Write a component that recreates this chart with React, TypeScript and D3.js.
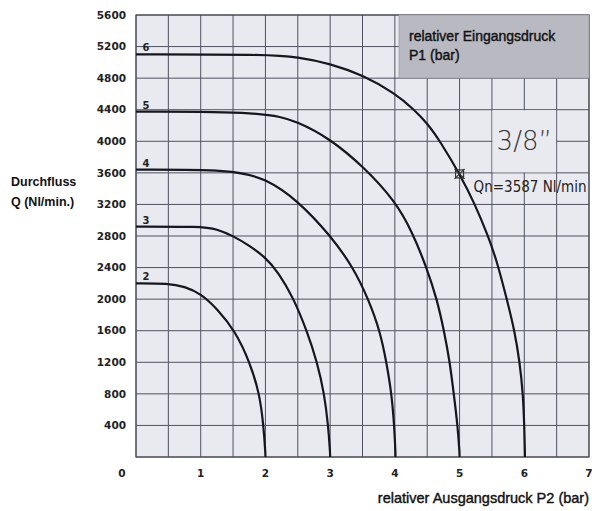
import React from 'react';
import * as d3 from 'd3';

// P2 (bar) / Q (Nl/min) points, one series per inlet pressure P1
const P1_LEVELS = ['2', '3', '4', '5', '6'];
const P2_BAR_2 = [0, 0.5, 0.75, 1.0, 1.25, 1.53, 1.76, 1.91, 1.97, 2.0, 2.0];
const Q_2 = [2200, 2200, 2160, 2070, 1880, 1600, 1200, 800, 400, 50, 0];
const P2_BAR_3 = [0, 1.0, 1.25, 1.5, 1.75, 2.0, 2.2, 2.43, 2.64, 2.8, 2.91, 2.97, 3.0, 3.0];
const Q_3 = [2920, 2920, 2890, 2800, 2680, 2530, 2340, 2020, 1600, 1200, 800, 400, 50, 0];
const P2_BAR_4 = [0, 1.5, 2.0, 2.5, 3.0, 3.36, 3.59, 3.77, 3.87, 3.95, 3.99, 4.01, 4.01];
const Q_4 = [3640, 3640, 3530, 3250, 2810, 2400, 2000, 1600, 1200, 800, 400, 50, 0];
const P2_BAR_5 = [0, 2.0, 2.5, 3.0, 3.5, 4.0, 4.27, 4.49, 4.65, 4.76, 4.85, 4.91, 4.97, 5.0, 5.0];
const Q_5 = [4375, 4375, 4250, 4030, 3690, 3250, 2850, 2400, 2000, 1600, 1200, 800, 400, 50, 0];
const P2_BAR_6 = [0, 2.0, 2.5, 3.0, 3.5, 4.0, 4.3, 4.5, 4.7, 5.0, 5.24, 5.44, 5.57, 5.73, 5.85, 5.93, 5.98, 6.0, 6.01, 6.01];
const Q_6 = [5100, 5100, 5070, 4985, 4840, 4610, 4400, 4228, 4000, 3587, 3200, 2800, 2500, 2000, 1600, 1200, 800, 400, 50, 0];

const X_TICKS = [0, 1, 2, 3, 4, 5, 6, 7];
const Y_TICKS = [400, 800, 1200, 1600, 2000, 2400, 2800, 3200, 3600, 4000, 4400, 4800, 5200, 5600];
const QN_POINT = [5, 3587];

const W = 592;
const H = 511;

export default function App() {
  const x = d3.scaleLinear().domain([0, 7]).range([136, 589]);
  const y = d3.scaleLinear().domain([0, 5600]).range([457, 15]);

  const series = [
    { label: P1_LEVELS[0], xs: P2_BAR_2, qs: Q_2 },
    { label: P1_LEVELS[1], xs: P2_BAR_3, qs: Q_3 },
    { label: P1_LEVELS[2], xs: P2_BAR_4, qs: Q_4 },
    { label: P1_LEVELS[3], xs: P2_BAR_5, qs: Q_5 },
    { label: P1_LEVELS[4], xs: P2_BAR_6, qs: Q_6 },
  ];

  // basis spline smooths out the reading noise of the hand-read points
  const line = d3
    .line<[number, number]>()
    .x((d) => x(d[0]))
    .y((d) => y(d[1]))
    .curve(d3.curveBasis);

  const vGrid = d3.range(0, 7.01, 0.5);
  const hGrid = d3.range(0, 5601, 400);

  const tickFont = '"DejaVu Sans", sans-serif';
  const textFont = '"Liberation Sans", Arial, sans-serif';
  const plotBg = '#e9eaf0';

  const qx = x(QN_POINT[0]);
  const qy = y(QN_POINT[1]);

  return (
    <svg width={W} height={H} style={{ position: 'absolute', left: 0, top: 0, background: '#fff' }}>
      {/* plot background */}
      <rect x={x(0)} y={y(5600)} width={x(7) - x(0)} height={y(0) - y(5600)} fill={plotBg} />

      {/* grid */}
      <g stroke="#4e525e" strokeWidth={1}>
        {vGrid.map((v) => (
          <line key={'v' + v} x1={x(v)} x2={x(v)} y1={y(0)} y2={y(5600)} />
        ))}
        {hGrid.map((q) => (
          <line key={'h' + q} x1={x(0)} x2={x(7)} y1={y(q)} y2={y(q)} />
        ))}
      </g>
      <rect
        x={x(0)}
        y={y(5600)}
        width={x(7) - x(0)}
        height={y(0) - y(5600)}
        fill="none"
        stroke="#50535c"
        strokeWidth={1.2}
      />

      {/* 3/8" box clears the grid */}
      <rect
        x={x(5.5) + 0.5}
        y={y(4400) + 0.5}
        width={x(6.5) - x(5.5) - 1}
        height={y(3600) - y(4400) - 1}
        fill={plotBg}
      />
      <text
        x={(x(5.5) + x(6.5)) / 2}
        y={y(4000) + 9}
        textAnchor="middle"
        fontFamily={'"DejaVu Sans", sans-serif'}
        fontWeight={200}
        fontSize={26}
        fill="#333"
      >
        3/8”
      </text>

      {/* legend box */}
      <rect x={399} y={y(5600)} width={x(7) - 399} height={63} fill="#b9bac1" stroke="#9a9ba2" strokeWidth={0.8} />
      <text x={409} y={41} fontFamily={textFont} fontSize={14} fill="#111" stroke="#111" strokeWidth={0.4}>
        relativer Eingangsdruck
      </text>
      <text x={409} y={60} fontFamily={textFont} fontSize={14} fill="#111" stroke="#111" strokeWidth={0.4}>
        P1 (bar)
      </text>

      {/* curves */}
      {series.map((s) => {
        const pts: [number, number][] = s.xs.map((v, i) => [v, s.qs[i]]);
        return (
          <g key={s.label}>
            <path d={line(pts) || ''} fill="none" stroke="#15161e" strokeWidth={2.2} />
            <text
              x={x(0) + 10}
              y={y(s.qs[0]) - 3}
              textAnchor="middle"
              fontFamily={tickFont}
              fontWeight="bold"
              fontSize={10}
              fill="#222"
            >
              {s.label}
            </text>
          </g>
        );
      })}

      {/* Qn marker */}
      <g stroke="#333" strokeWidth={1.2} fill="none">
        <rect x={qx - 4} y={qy - 4} width={8} height={8} />
        <line x1={qx - 5} y1={qy - 5} x2={qx + 5} y2={qy + 5} />
        <line x1={qx - 5} y1={qy + 5} x2={qx + 5} y2={qy - 5} />
      </g>
      <text
        x={qx + 14}
        y={qy + 18}
        fontFamily={'"Liberation Sans Narrow", "DejaVu Sans Condensed", sans-serif'}
        fontSize={15}
        fill="#222"
      >
        Qn=3587 Nl/min
      </text>

      {/* y tick labels */}
      {Y_TICKS.map((q) => (
        <text
          key={'yt' + q}
          x={126}
          y={y(q)}
          dy="0.36em"
          textAnchor="end"
          fontFamily={tickFont}
          fontWeight="bold"
          fontSize={10.5}
          fill="#222"
        >
          {q}
        </text>
      ))}

      {/* x tick labels */}
      {X_TICKS.map((v) => (
        <text
          key={'xt' + v}
          x={v === 0 ? 122 : x(v)}
          y={473}
          dy="0.36em"
          textAnchor="middle"
          fontFamily={tickFont}
          fontWeight="bold"
          fontSize={10.5}
          fill="#222"
        >
          {v}
        </text>
      ))}

      {/* axis titles */}
      <text x={11} y={186} fontFamily={textFont} fontWeight="bold" fontSize={12.5} fill="#111">
        Durchfluss
      </text>
      <text x={11} y={206} fontFamily={textFont} fontWeight="bold" fontSize={12.5} fill="#111">
        Q (Nl/min.)
      </text>
      <text
        x={589}
        y={503}
        textAnchor="end"
        fontFamily={textFont}
        fontSize={14.5}
        fill="#111"
        stroke="#111"
        strokeWidth={0.4}
      >
        relativer Ausgangsdruck P2 (bar)
      </text>
    </svg>
  );
}
